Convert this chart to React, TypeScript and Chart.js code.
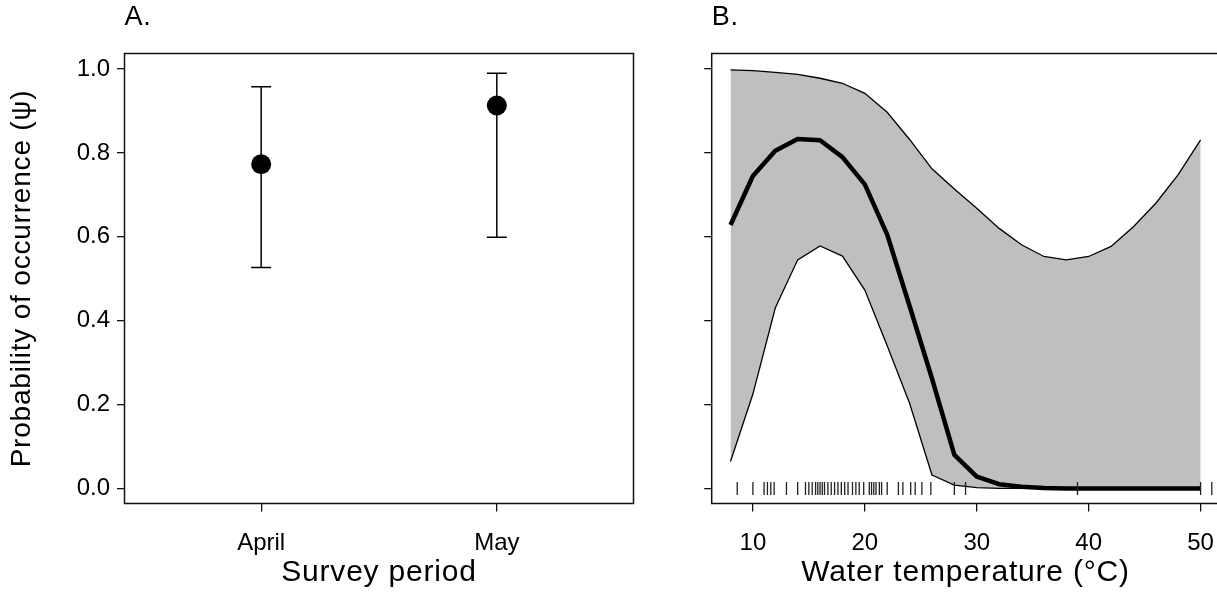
import React, { useEffect, useRef } from 'react';
import { Chart, registerables } from 'chart.js';

Chart.register(...registerables);

// ---------- Panel A data ----------
const categories = ['April', 'May'];
const categoryPos = [1, 2];
const psiEstimate = [0.773, 0.913];
const psiLower = [0.527, 0.599];
const psiUpper = [0.958, 0.99];

// ---------- Panel B data ----------
const temps = [8, 10, 12, 14, 16, 18, 20, 22, 24, 26, 28, 30, 32, 34, 36, 38, 40, 42, 44, 46, 48, 50];
const meanPsi = [0.628, 0.745, 0.805, 0.833, 0.83, 0.79, 0.725, 0.605, 0.435, 0.262, 0.08, 0.028, 0.01, 0.004, 0.001, 0, 0, 0, 0, 0, 0, 0];
const lowerPsi = [0.064, 0.225, 0.43, 0.545, 0.578, 0.554, 0.473, 0.34, 0.203, 0.032, 0.008, 0.002, 0, 0, 0, 0, 0, 0, 0, 0, 0, 0];
const upperPsi = [0.998, 0.996, 0.992, 0.987, 0.978, 0.966, 0.942, 0.897, 0.832, 0.762, 0.714, 0.668, 0.62, 0.581, 0.553, 0.545, 0.553, 0.577, 0.624, 0.68, 0.748, 0.831];
const rugTemps = [8.6, 10.0, 11.0, 11.3, 11.6, 11.9, 13.0, 14.0, 14.7, 15.0, 15.3, 15.6, 15.8, 16.0, 16.2, 16.4, 16.7, 17.0, 17.3, 17.6, 17.9, 18.2, 18.5, 18.9, 19.2, 19.5, 19.9, 20.4, 20.6, 20.8, 21.0, 21.3, 21.5, 22.0, 23.0, 23.4, 24.1, 24.5, 25.1, 25.9, 28.0, 29.0, 39.0, 50.0, 51.0];

// ---------- tick labels ----------
const yTicks = [0, 0.2, 0.4, 0.6, 0.8, 1.0];
const tempTicks = [10, 20, 30, 40, 50];

const FONT = "'Liberation Sans', Arial, Helvetica, sans-serif";

Chart.defaults.color = '#000';
Chart.defaults.font.family = FONT;

const boxPlugin = {
  id: 'plotBox',
  afterDraw(chart: any) {
    const { ctx, chartArea: a } = chart;
    ctx.save();
    ctx.letterSpacing = '0px';
    ctx.strokeStyle = '#111';
    ctx.lineWidth = 1.5;
    ctx.strokeRect(a.left, a.top, a.right - a.left, a.bottom - a.top);
    ctx.restore();
  },
};

// slightly wider spacing for axis titles (drawn before datasets), none for tick labels
const spacingPlugin = {
  id: 'titleSpacing',
  beforeDraw(chart: any) {
    chart.ctx.letterSpacing = '0.8px';
  },
  beforeDatasetsDraw(chart: any) {
    chart.ctx.letterSpacing = '0px';
  },
  afterDraw(chart: any) {
    chart.ctx.letterSpacing = '0px';
  },
};

const tickFont = { family: FONT, size: 24 };
const titleFont = { family: FONT, size: 30 };

function gridOpts(len: number) {
  return {
    drawOnChartArea: false,
    drawTicks: true,
    tickLength: len,
    color: '#111',
    lineWidth: 1.3,
  };
}

function panelTitle(text: string) {
  return {
    display: true,
    text,
    align: 'start' as const,
    fullSize: false,
    color: '#000',
    font: { family: FONT, size: 27, weight: 'normal' as const },
    padding: { top: 0, bottom: 19.8 },
  };
}

export default function App() {
  const leftRef = useRef<HTMLCanvasElement | null>(null);
  const rightRef = useRef<HTMLCanvasElement | null>(null);

  useEffect(() => {
    if (!leftRef.current || !rightRef.current) return;

    const errorBarSets = categoryPos.map((pos, i) => ({
      label: categories[i] + ' CI',
      data: [
        { x: pos, y: psiLower[i] },
        { x: pos, y: psiUpper[i] },
      ],
      showLine: true,
      borderColor: '#000',
      borderWidth: 1.5,
      pointStyle: 'line',
      pointRadius: 10,
      pointBorderWidth: 1.5,
      pointBorderColor: '#000',
      pointBackgroundColor: '#000',
    }));

    const left = new Chart(leftRef.current, {
      type: 'scatter',
      data: {
        datasets: [
          {
            label: 'psi',
            data: categoryPos.map((pos, i) => ({ x: pos, y: psiEstimate[i] })),
            pointRadius: 10,
            pointBackgroundColor: '#000',
            pointBorderColor: '#000',
            pointBorderWidth: 0,
          },
          ...errorBarSets,
        ] as any,
      },
      options: {
        animation: false,
        responsive: false,
        events: [],
        layout: { padding: { left: 0, right: 46.5, top: 1.3, bottom: 0 } },
        plugins: {
          legend: { display: false },
          tooltip: { enabled: false },
          title: panelTitle('A.'),
        },
        scales: {
          x: {
            type: 'linear',
            min: 0.42,
            max: 2.58,
            afterBuildTicks: (s: any) => {
              s.ticks = categoryPos.map((v) => ({ value: v }));
            },
            afterFit: (s: any) => {
              s.height = 94.5;
            },
            ticks: {
              font: tickFont,
              color: '#000',
              padding: 17.5,
              z: 1,
              maxRotation: 0,
              autoSkip: false,
              callback: (v: any) => {
                const idx = categoryPos.indexOf(Number(v));
                return idx >= 0 ? categories[idx] : '';
              },
            },
            grid: gridOpts(8),
            border: { display: false },
            title: {
              display: true,
              text: 'Survey period',
              font: titleFont,
              color: '#000',
              padding: { top: 0, bottom: 7 },
            },
          },
          y: {
            type: 'linear',
            min: -0.036,
            max: 1.037,
            afterBuildTicks: (s: any) => {
              s.ticks = yTicks.map((v) => ({ value: v }));
            },
            afterFit: (s: any) => {
              s.width = 124.5;
            },
            ticks: {
              font: tickFont,
              color: '#000',
              padding: 7,
              z: 1,
              callback: (v: any) => Number(v).toFixed(1),
            },
            grid: gridOpts(7.5),
            border: { display: false },
            title: {
              display: true,
              text: 'Probability of occurrence (\u03C8)',
              font: { family: FONT, size: 28 },
              color: '#000',
              padding: { top: 5.2, bottom: 0 },
            },
          },
        },
      } as any,
      plugins: [spacingPlugin, boxPlugin],
    });

    const right = new Chart(rightRef.current, {
      type: 'line',
      data: {
        datasets: [
          {
            label: 'sites',
            data: rugTemps.map((t) => ({ x: t, y: 0 })),
            showLine: false,
            pointStyle: 'line',
            rotation: 90,
            pointRadius: 6.5,
            pointBorderWidth: 1.3,
            pointBorderColor: '#222',
            pointBackgroundColor: '#222',
          },
          {
            label: 'mean',
            data: temps.map((t, i) => ({ x: t, y: meanPsi[i] })),
            borderColor: '#000',
            borderWidth: 4.5,
            pointRadius: 0,
            tension: 0,
            fill: false,
            borderJoinStyle: 'round',
          },
          {
            label: 'upper',
            data: temps.map((t, i) => ({ x: t, y: upperPsi[i] })),
            borderColor: '#000',
            borderWidth: 1.3,
            pointRadius: 0,
            tension: 0,
            fill: false,
          },
          {
            label: 'lower',
            data: temps.map((t, i) => ({ x: t, y: lowerPsi[i] })),
            borderColor: '#000',
            borderWidth: 1.3,
            pointRadius: 0,
            tension: 0,
            fill: '-1',
            backgroundColor: '#bfbfbf',
          },
        ] as any,
      },
      options: {
        animation: false,
        responsive: false,
        events: [],
        layout: { padding: { left: 0, right: 15.6, top: 1.3, bottom: 0 } },
        plugins: {
          legend: { display: false },
          tooltip: { enabled: false },
          title: panelTitle('B.'),
        },
        scales: {
          x: {
            type: 'linear',
            min: 6.32,
            max: 51.68,
            afterBuildTicks: (s: any) => {
              s.ticks = tempTicks.map((v) => ({ value: v }));
            },
            afterFit: (s: any) => {
              s.height = 94.5;
            },
            ticks: {
              font: tickFont,
              color: '#000',
              padding: 17.5,
              z: 1,
              maxRotation: 0,
              autoSkip: false,
              callback: (v: any) => String(v),
            },
            grid: gridOpts(8),
            border: { display: false },
            title: {
              display: true,
              text: 'Water temperature (\u00B0C)',
              font: titleFont,
              color: '#000',
              padding: { top: 0, bottom: 7 },
            },
          },
          y: {
            type: 'linear',
            min: -0.036,
            max: 1.037,
            afterBuildTicks: (s: any) => {
              s.ticks = yTicks.map((v) => ({ value: v }));
            },
            afterFit: (s: any) => {
              s.width = 31.7;
            },
            ticks: { display: false, z: 1 },
            grid: gridOpts(7.5),
            border: { display: false },
          },
        },
      } as any,
      plugins: [spacingPlugin, boxPlugin],
    });

    return () => {
      left.destroy();
      right.destroy();
    };
  }, []);

  return (
    <div
      style={{
        position: 'absolute',
        left: 0,
        top: 0,
        width: 1217,
        height: 598,
        overflow: 'hidden',
        background: '#fff',
      }}
    >
      <canvas ref={leftRef} width={680} height={598} style={{ position: 'absolute', left: 0, top: 0 }} />
      <canvas ref={rightRef} width={555} height={598} style={{ position: 'absolute', left: 680, top: 0 }} />
    </div>
  );
}
